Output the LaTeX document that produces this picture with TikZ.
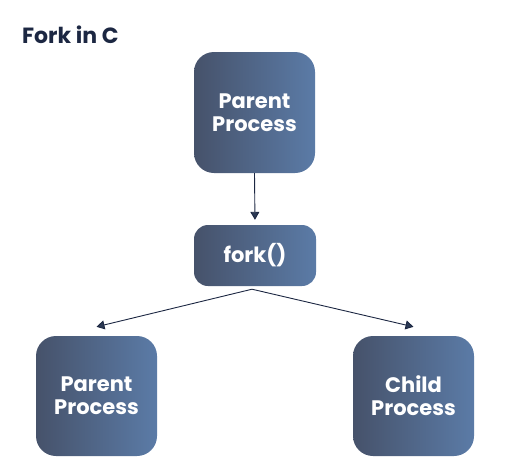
\documentclass[tikz,border=0pt]{standalone}
\usepackage{fontspec}
\setmainfont{Poppins}
\usepackage{tikz}
\usetikzlibrary{arrows.meta}
\definecolor{navy}{HTML}{1C2742}
\definecolor{boxleft}{HTML}{46526A}
\definecolor{boxright}{HTML}{5B7BA7}
\definecolor{tipcol}{HTML}{2B3954}

\begin{document}
\begin{tikzpicture}[x=1pt,y=-1pt,
  proc/.style={rounded corners=20pt,left color=boxleft,right color=boxright,
    text=white,font=\bfseries\fontsize{21}{23}\selectfont,align=center,
    minimum width=121pt,minimum height=121pt,inner sep=0pt},
  link/.style={line width=0.9pt,draw=navy,-{Triangle[width=9pt,length=8pt,fill=tipcol]}}]
  \useasboundingbox (0,0) rectangle (510,472);
  \node[anchor=base west,text=navy,font=\bfseries\fontsize{22}{24}\selectfont,inner sep=0pt] (title) at (22,43) {Fork in C};
  \node[proc] (parent) at (254.5,112.5) {Parent\\Process};
  \node[proc,minimum width=122pt,minimum height=61pt,rounded corners=14pt] (fork) at (255,255.5) {fork()};
  \node[proc,minimum height=120pt] (left) at (96.5,396) {Parent\\Process};
  \node[proc,minimum height=120pt] (child) at (413.5,396) {Child\\Process};
  \draw[link,shorten >=5pt] (parent.south) -- (fork.north);
  \draw[link] ([xshift=-3pt,yshift=-3pt]fork.south) -- ([yshift=9pt]left.north);
  \draw[link] ([xshift=-3pt,yshift=-3pt]fork.south) -- ([yshift=9pt]child.north);
\end{tikzpicture}
\end{document}
